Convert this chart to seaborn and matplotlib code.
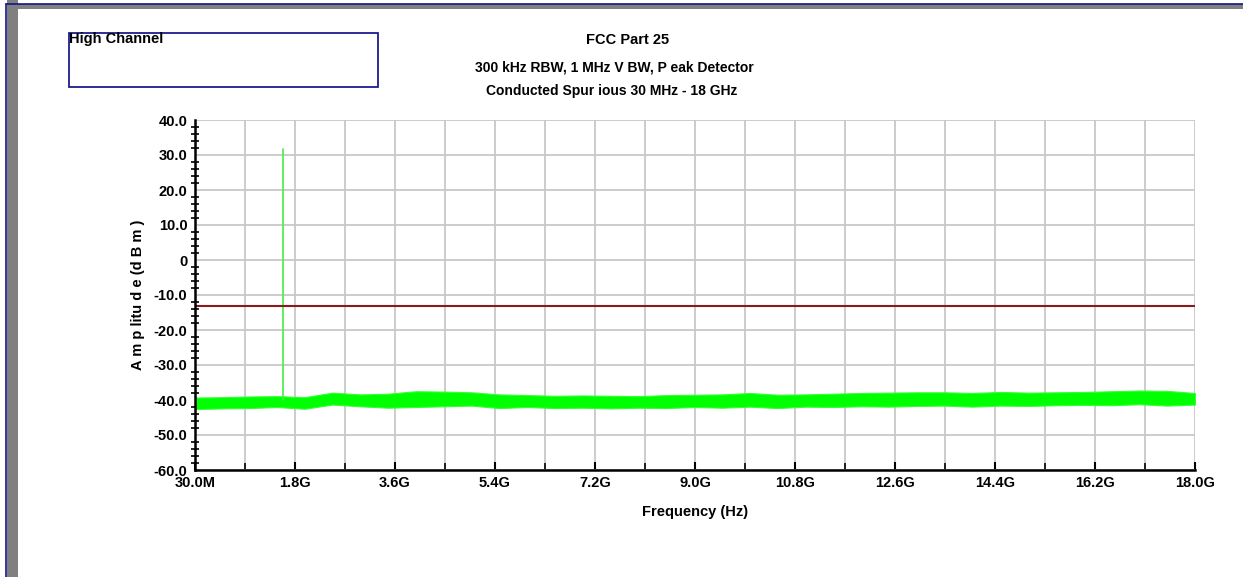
import numpy as np
import pandas as pd
import seaborn as sns
import matplotlib.pyplot as plt
from matplotlib.patches import Rectangle
from matplotlib.lines import Line2D

# Data (frequency in GHz, level in dBm)
freq_ghz = [0.03, 0.5, 1.0, 1.5, 2.0, 2.5, 3.0, 3.5, 4.0, 4.5, 5.0, 5.5, 6.0,
            6.5, 7.0, 7.5, 8.0, 8.5, 9.0, 9.5, 10.0, 10.5, 11.0, 11.5, 12.0,
            12.5, 13.0, 13.5, 14.0, 14.5, 15.0, 15.5, 16.0, 16.5, 17.0, 17.5, 18.0]
noise_upper = [-39.3, -39.2, -39.0, -38.9, -39.2, -37.9, -38.4, -38.2, -37.5, -37.6,
               -37.8, -38.4, -38.6, -38.8, -38.7, -38.8, -38.9, -38.6, -38.5, -38.4,
               -38.0, -38.5, -38.4, -38.2, -38.0, -37.9, -37.8, -37.8, -38.0, -37.7,
               -37.9, -37.8, -37.7, -37.5, -37.3, -37.4, -38.0]
noise_lower = [-42.6, -42.4, -42.3, -42.0, -42.5, -41.3, -41.8, -42.2, -42.0, -41.8,
               -41.6, -42.3, -42.0, -42.3, -42.2, -42.4, -42.2, -42.3, -42.0, -42.2,
               -41.9, -42.3, -41.9, -42.0, -41.8, -41.9, -41.7, -41.6, -41.9, -41.6,
               -41.7, -41.5, -41.4, -41.5, -41.2, -41.6, -41.3]
spike_freq = [1.61, 1.61]
spike_level = [-40.0, 31.6]
limit_freq = [0.03, 18.0]
limit_level = [-13.0, -13.0]

x_ticks = np.linspace(0.03, 18.0, 11)
x_labels = ['30.0M', '1.8G', '3.6G', '5.4G', '7.2G', '9.0G', '10.8G', '12.6G', '14.4G', '16.2G', '18.0G']
y_ticks = [40, 30, 20, 10, 0, -10, -20, -30, -40, -50, -60]
y_labels = ['40.0', '30.0', '20.0', '10.0', '0', '-10.0', '-20.0', '-30.0', '-40.0', '-50.0', '-60.0']

sns.set_style('white')
plt.rcParams['font.family'] = ['Liberation Sans', 'DejaVu Sans']
plt.rcParams['font.weight'] = 'bold'
plt.rcParams['text.color'] = 'black'
plt.rcParams['xtick.color'] = 'black'
plt.rcParams['ytick.color'] = 'black'
plt.rcParams['axes.labelcolor'] = 'black'

fig = plt.figure(figsize=(12.43, 5.77), dpi=100)
ax = fig.add_axes([195 / 1243, 1 - 470 / 577, 1000 / 1243, 350 / 577])

# noise floor band
ax.fill_between(freq_ghz, noise_lower, noise_upper, color='#00ff00', lw=0.8, edgecolor='#33ff33', zorder=3)

spike = pd.DataFrame({'f': spike_freq, 'dbm': spike_level})
sns.lineplot(data=spike, x='f', y='dbm', estimator=None, sort=False, color='#44ee44', lw=1.2, ax=ax, zorder=3)
limit = pd.DataFrame({'f': limit_freq, 'dbm': limit_level})
sns.lineplot(data=limit, x='f', y='dbm', estimator=None, color='#8b1a1a', lw=1.5, ax=ax, zorder=4)

ax.set_xlim(0.03, 18.0)
ax.set_ylim(-60, 40)
ax.set_xticks(x_ticks)
ax.set_xticklabels(x_labels, fontsize=10.5, fontweight='bold')
ax.set_xticks(np.linspace(0.03, 18.0, 21), minor=True)
ax.set_yticks(y_ticks)
ax.set_yticklabels(y_labels, fontsize=10.5, fontweight='bold')
ax.set_yticks(np.arange(-60, 41, 2), minor=True)

ax.grid(True, which='major', color='#c8c8c8', lw=1.3)
ax.grid(True, which='minor', axis='x', color='#c8c8c8', lw=1.3)
ax.set_axisbelow(True)

for s in ['top', 'right']:
    ax.spines[s].set_visible(False)
for s in ['left', 'bottom']:
    ax.spines[s].set_color('black')
    ax.spines[s].set_linewidth(1.8)
    ax.spines[s].set_zorder(5)

ax.tick_params(axis='y', which='major', direction='inout', length=9, width=1.5, pad=1)
ax.tick_params(axis='y', which='minor', direction='inout', length=6, width=1.2, left=True)
ax.tick_params(axis='x', which='major', direction='in', length=6, width=1.5, pad=4, bottom=True)
ax.tick_params(axis='x', which='minor', direction='in', length=5, width=1.2, bottom=True)

ax.set_xlabel('Frequency (Hz)', fontsize=10.5, fontweight='bold', labelpad=11)
ax.set_ylabel('A m p litu d e (d B m )', fontsize=10.5, fontweight='bold', labelpad=6)

# titles
fig.text(628 / 1243, 1 - 40 / 577, 'FCC Part 25', ha='center', va='center', fontsize=10.5, fontweight='bold')
fig.text(614 / 1243, 1 - 68 / 577, '300 kHz RBW, 1 MHz V BW, P eak Detector', ha='center', va='center',
         fontsize=10, fontweight='bold')
fig.text(612 / 1243, 1 - 91 / 577, 'Conducted Spur ious 30 MHz - 18 GHz', ha='center', va='center',
         fontsize=10, fontweight='bold')

# label box
fig.patches.append(Rectangle((69 / 1243, 1 - 87 / 577), 309 / 1243, 54 / 577, transform=fig.transFigure,
                             fill=False, edgecolor='#1c1c8c', lw=1.3))
fig.text(69 / 1243, 1 - 32 / 577, 'High Channel', ha='left', va='top', fontsize=10.5, fontweight='bold')

# window frame
fig.patches.append(Rectangle((7 / 1243, 0), 11 / 1243, 1, transform=fig.transFigure, color='#808080', lw=0))
fig.patches.append(Rectangle((7 / 1243, 1 - 9 / 577), 1 - 7 / 1243, 5 / 577, transform=fig.transFigure,
                             color='#808080', lw=0))
fig.lines.append(Line2D([6 / 1243, 6 / 1243], [0, 1 - 4 / 577], transform=fig.transFigure, color='#14148c', lw=1.2))
fig.lines.append(Line2D([6 / 1243, 1], [1 - 4 / 577, 1 - 4 / 577], transform=fig.transFigure, color='#14148c', lw=1.2))

fig.savefig('out.png', dpi=100)
